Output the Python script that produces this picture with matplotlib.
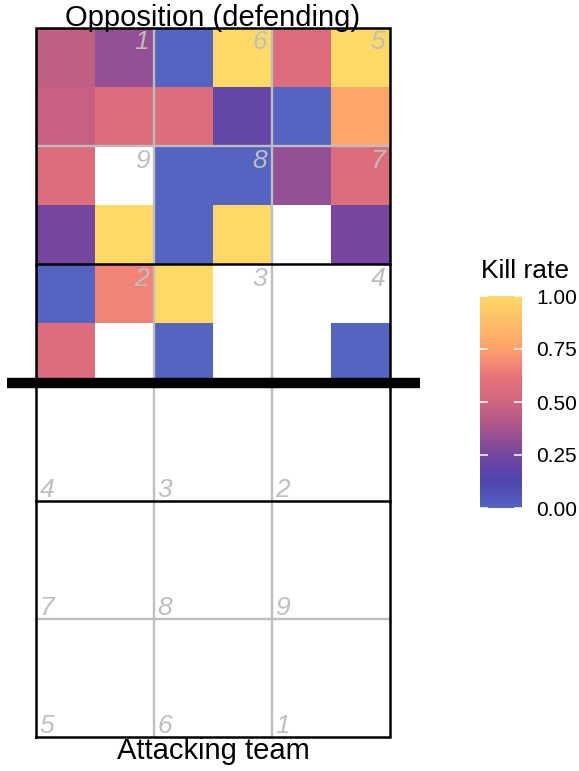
import numpy as np
import matplotlib
matplotlib.use("Agg")
import matplotlib.pyplot as plt
from matplotlib.colors import LinearSegmentedColormap

plt.rcParams['font.family'] = ['Liberation Sans', 'DejaVu Sans']

# kill rate per subzone on the opposition half, rows listed from the back line down to the net
kill_rate = [
    [0.45, 0.33, 0.00, 1.00, 0.57, 1.00],
    [0.47, 0.57, 0.57, 0.20, 0.00, 0.78],
    [0.57, np.nan, 0.00, 0.00, 0.33, 0.57],
    [0.25, 1.00, 0.00, 1.00, np.nan, 0.25],
    [0.00, 0.67, 1.00, np.nan, np.nan, np.nan],
    [0.57, np.nan, 0.00, np.nan, np.nan, 0.00],
]
# zone numbers (opposition half: top row first; attacking half: net row first)
opp_zones = [[1, 6, 5], [9, 8, 7], [2, 3, 4]]
att_zones = [[4, 3, 2], [7, 8, 9], [5, 6, 1]]

cmap = LinearSegmentedColormap.from_list("kill", [
    (0.00, "#5563C1"), (0.12, "#4B46AF"), (0.25, "#7446A0"), (0.40, "#B05889"),
    (0.50, "#CF657F"), (0.62, "#E8727A"), (0.75, "#FFA06B"), (1.00, "#FED966")])

fig = plt.figure(figsize=(5.79, 7.71), dpi=100)
ax = fig.add_axes([6.5/579, 34/771, 413/579, 709/771])
ax.set_xlim(0.25, 3.75)
ax.set_ylim(0.5, 6.5)
ax.axis('off')

# tiles
xe = np.arange(0.5, 3.51, 0.5)
ye = np.arange(3.5, 6.51, 0.5)
Z = np.ma.masked_invalid(np.flipud(np.array(kill_rate)))
mesh = ax.pcolormesh(xe, ye, Z, cmap=cmap, vmin=0, vmax=1, zorder=1)

grey = "#BEBEBE"
# zone lines
for x in [1.5, 2.5]:
    ax.plot([x, x], [0.5, 6.5], color=grey, lw=1.7, zorder=2, clip_on=False)
for y in [1.5, 5.5]:
    ax.plot([0.5, 3.5], [y, y], color=grey, lw=1.7, zorder=2, clip_on=False)
# court outline and attack lines
ax.plot([0.5, 3.5, 3.5, 0.5, 0.5], [0.5, 0.5, 6.5, 6.5, 0.5], color="black", lw=1.8,
        zorder=3, clip_on=False, solid_joinstyle='miter')
for y in [2.5, 4.5]:
    ax.plot([0.5, 3.5], [y, y], color="black", lw=1.8, zorder=3, clip_on=False)
# net
ax.plot([0.25, 3.75], [3.5, 3.5], color="black", lw=7.5, zorder=4,
        solid_capstyle='butt', clip_on=False)

# zone numbers
for r, row in enumerate(opp_zones):
    ytop = 6.5 - r
    for c, z in enumerate(row):
        ax.text(1.5 + c - 0.04, ytop - 0.02, str(z), ha='right', va='top',
                color=grey, style='italic', fontsize=19, zorder=5)
for r, row in enumerate(att_zones):
    ybot = 2.5 - r
    for c, z in enumerate(row):
        ax.text(0.5 + c + 0.03, ybot + 0.03, str(z), ha='left', va='baseline',
                color=grey, style='italic', fontsize=19, zorder=5)

ax.text(2.0, 6.515, "Opposition (defending)", ha='center', va='baseline', fontsize=21,
        zorder=6, clip_on=False)
ax.text(2.0, 0.315, "Attacking team", ha='center', va='baseline', fontsize=21,
        clip_on=False)

# colour bar legend
cax = fig.add_axes([480/579, 263/771, 42/579, 212/771])
cb = fig.colorbar(mesh, cax=cax, ticks=[0, 0.25, 0.5, 0.75, 1.0])
cb.outline.set_visible(False)
cb.ax.set_yticklabels(["0.00", "0.25", "0.50", "0.75", "1.00"])
cax.tick_params(direction='in', length=5.5, width=1.1, color='white', left=True,
                right=True, labelleft=False, labelright=True, labelsize=15, pad=10)
fig.text(481/579, (771-278)/771, "Kill rate", ha='left', va='baseline', fontsize=19)

fig.savefig("out.png", dpi=100)
